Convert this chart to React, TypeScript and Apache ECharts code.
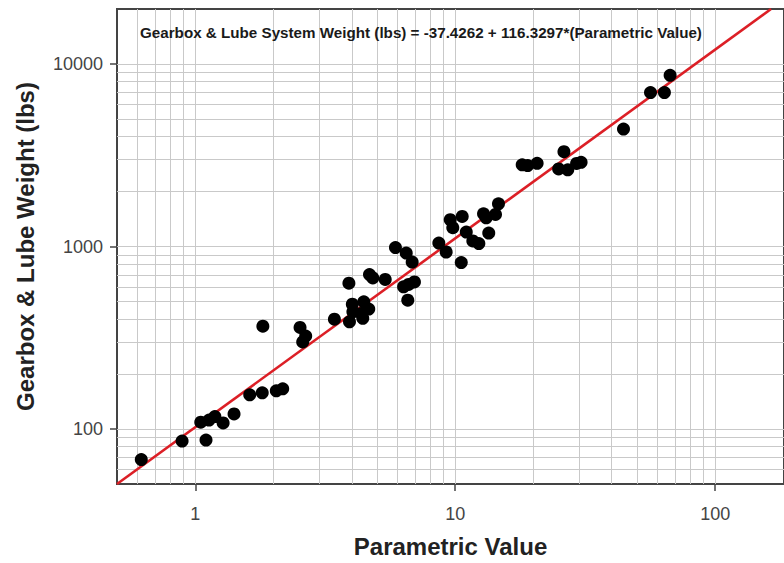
import React, { useEffect, useRef } from "react";
import * as echarts from "echarts";

// Scatter data
const paramValues = [
  0.62, 0.89, 1.1, 1.05, 1.13, 1.19, 1.28, 1.41, 1.62, 1.81, 2.05, 2.17,
  1.82, 2.53, 2.66, 2.59, 3.43, 3.9, 4.02, 4.45, 4.65, 4.04, 4.35, 3.92,
  4.41, 4.68, 4.82, 5.38, 5.89, 6.48, 6.83, 6.33, 6.62, 6.97, 6.57, 8.65,
  9.23, 9.57, 9.79, 10.64, 11.03, 10.55, 11.69, 12.33, 12.85, 13.16, 14.29,
  13.46, 14.67, 18.1, 19.0, 20.66, 26.2, 25.0, 27.1, 29.3, 30.5, 44.4, 56.4,
  63.8, 67.1,
];
const weights = [
  68, 86, 87, 109, 112, 117, 108, 121, 154, 158, 162, 166,
  366, 360, 323, 300, 400, 630, 483, 498, 454, 439, 430, 387,
  404, 702, 673, 660, 986, 921, 822, 601, 620, 640, 508, 1045,
  933, 1402, 1268, 1461, 1200, 816, 1072, 1037, 1510, 1437, 1498,
  1185, 1714, 2800, 2774, 2856, 3307, 2661, 2629, 2850, 2891, 4400, 6966,
  6966, 8665,
];

// Fitted line end points
const fitX = [0.5, 164];
const fitY = [50, 20000];

// Axis ranges and ticks
const xMin = 0.5;
const xMax = 184;
const yMin = 50;
const yMax = 20000;
const xTickLabels = [1, 10, 100];
const yTickLabels = [100, 1000, 10000];
const xGridValues = [
  0.6, 0.7, 0.8, 0.9, 1, 2, 3, 4, 5, 6, 7, 8, 9, 10, 20, 30, 40, 50, 60, 70,
  80, 90, 100,
];
const yGridValues = [
  60, 70, 80, 90, 100, 200, 300, 400, 500, 600, 700, 800, 900, 1000, 2000,
  3000, 4000, 5000, 6000, 7000, 8000, 9000, 10000,
];

const equationText =
  "Gearbox & Lube System Weight (lbs) = -37.4262 + 116.3297*(Parametric Value)";

export default function App() {
  const ref = useRef<HTMLDivElement>(null);
  useEffect(() => {
    if (!ref.current) return;
    const chart = echarts.init(ref.current, null, { renderer: "svg" });
    const font = "'Liberation Sans', Arial, sans-serif";
    chart.setOption({
      animation: false,
      backgroundColor: "#ffffff",
      textStyle: { fontFamily: font },
      grid: {
        left: 117,
        top: 9,
        bottom: 79,
        right: 0,
        show: true,
        borderColor: "#444",
        borderWidth: 2,
        containLabel: false,
      },
      graphic: [
        {
          type: "text",
          x: 140,
          y: 32,
          z: 20,
          style: {
            text: equationText,
            fontFamily: font,
            fontWeight: "bold",
            fontSize: 15.2,
            fill: "#1a1a1a",
            textVerticalAlign: "middle",
          },
        },
      ],
      xAxis: {
        type: "log",
        logBase: 10,
        min: xMin,
        max: xMax,
        name: "Parametric Value",
        nameLocation: "middle",
        nameGap: 50,
        nameTextStyle: {
          fontFamily: font,
          fontWeight: "bold",
          fontSize: 24,
          color: "#222",
        },
        axisLine: { show: true, lineStyle: { color: "#444", width: 2 } },
        axisTick: {
          show: true,
          customValues: xTickLabels,
          length: 7,
          lineStyle: { color: "#444", width: 1.5 },
        },
        axisLabel: {
          customValues: xTickLabels,
          margin: 21,
          fontSize: 18,
          color: "#444",
          fontFamily: font,
          formatter: (v: number) => String(v),
        },
        splitLine: { show: false },
      },
      yAxis: {
        type: "log",
        logBase: 10,
        min: yMin,
        max: yMax,
        name: "Gearbox & Lube Weight (lbs)",
        nameLocation: "middle",
        nameGap: 80,
        nameRotate: 90,
        nameTextStyle: {
          fontFamily: font,
          fontWeight: "bold",
          fontSize: 24,
          color: "#222",
        },
        axisLine: { show: true, lineStyle: { color: "#444", width: 2 } },
        axisTick: {
          show: true,
          customValues: yTickLabels,
          length: 7,
          lineStyle: { color: "#444", width: 1.5 },
        },
        axisLabel: {
          customValues: yTickLabels,
          margin: 14,
          fontSize: 18,
          color: "#444",
          fontFamily: font,
          formatter: (v: number) => String(v),
        },
        splitLine: { show: false },
      },
      series: [
        {
          type: "scatter",
          data: [],
          silent: true,
          z: 1,
          markLine: {
            silent: true,
            symbol: ["none", "none"],
            label: { show: false },
            lineStyle: { color: "#c9c9c9", type: "solid", width: 1 },
            emphasis: { disabled: true },
            data: [
              ...xGridValues.map((v) => ({ xAxis: v })),
              ...yGridValues.map((v) => ({ yAxis: v })),
            ],
          },
        },
        {
          type: "line",
          data: fitX.map((x, i) => [x, fitY[i]]),
          showSymbol: false,
          symbol: "none",
          silent: true,
          z: 8,
          lineStyle: { color: "#dc1f26", width: 2.6 },
        },
        {
          type: "scatter",
          data: paramValues.map((x, i) => [x, weights[i]]),
          symbolSize: 13,
          z: 10,
          itemStyle: { color: "#000000", opacity: 1 },
        },
      ],
    });
    return () => chart.dispose();
  }, []);
  return (
    <div
      ref={ref}
      style={{ position: "fixed", left: 0, top: 0, width: 784, height: 563 }}
    />
  );
}
